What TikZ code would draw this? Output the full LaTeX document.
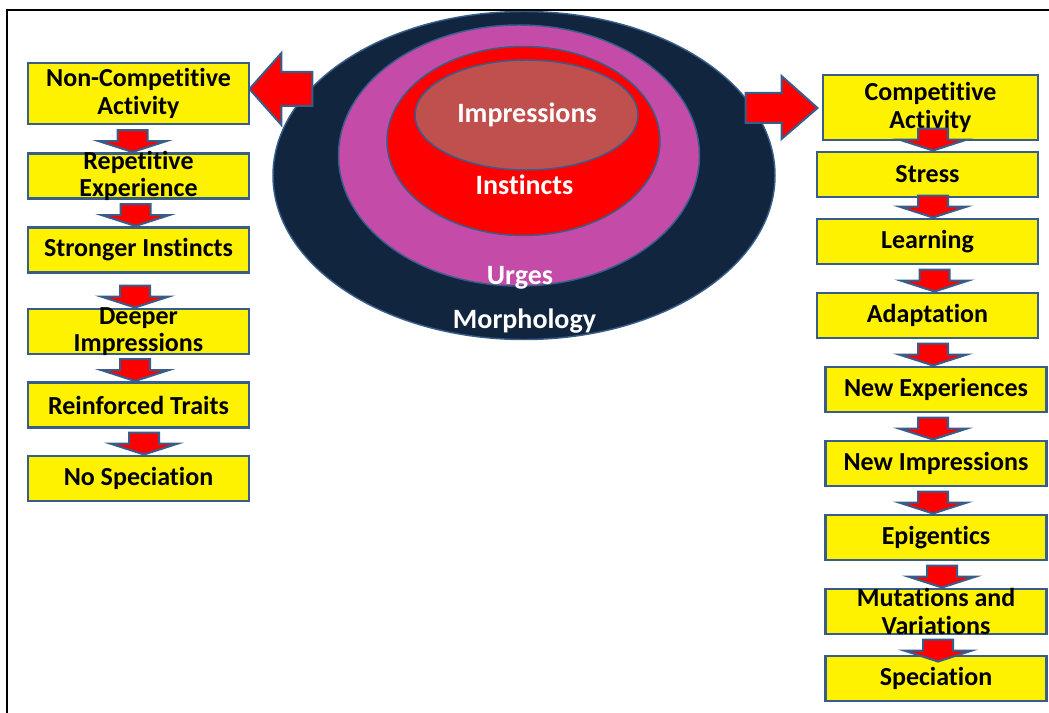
\documentclass[tikz,border=0pt]{standalone}
\usepackage{fontspec}
\setmainfont{Carlito}[Ligatures={NoCommon,NoContextual,NoRequired},RawFeature={-liga;-clig;-calt}]
\usetikzlibrary{calc}
\definecolor{boxline}{RGB}{56,93,138}
\definecolor{navy}{RGB}{18,37,63}
\definecolor{urgec}{RGB}{196,75,168}
\definecolor{imprc}{RGB}{192,80,77}
\tikzset{
  stage/.style={draw=boxline, line width=2.2pt, fill=yellow, minimum width=165.75pt,
    minimum height=33.75pt, inner xsep=0pt, inner ysep=0pt, align=center,
    font=\bfseries\fontsize{19.5}{20.8}\selectfont},
  twoline/.style={inner ysep=-4pt},
  blockarr/.style={draw=boxline, line width=1.5pt, fill=red, line join=miter},
  ring/.style={draw=boxline, line width=1.1pt},
  ringtxt/.style={text=white, anchor=base, font=\bfseries\fontsize{21}{25}\selectfont}
}
\newcommand*{\dnarr}[3]{\draw[blockarr] ([shift={(#2,#3)}]#1.north) -- ++(-34,-11) -- ++(19,0)
  -- ++(0,-11) -- ++(30,0) -- ++(0,11) -- ++(19,0) -- cycle;}

\begin{document}
\begin{tikzpicture}[x=0.75pt,y=-0.75pt]
\useasboundingbox (0,0) rectangle (1049,713);
\draw[line width=2.2pt] (1049,10) -- (7,10) -- (7,713);
\draw[ring, fill=navy] (524,175.5) ellipse [x radius=251, y radius=164];
\draw[ring, fill=urgec] (519,155.5) ellipse [x radius=180.5, y radius=130.5];
\draw[ring, fill=red] (523.5,141) ellipse [x radius=136.5, y radius=94.5];
\draw[ring, fill=imprc] (526.5,115) ellipse [x radius=111.5, y radius=55];
\node[ringtxt] (imp) at (527,123) {Impressions};
\node[ringtxt] (inst) at (524.5,195) {Instincts};
\node[ringtxt] (urg) at (520,284) {Urges};
\node[ringtxt] (morph) at (524.5,328.5) {Morphology};
\node[stage, minimum height=45.75pt] (nc) at (138.5,93.5) {Non-Competitive\\Activity};
\node[stage, twoline] (rep) at (138.5,176) {Repetitive\\Experience};
\node[stage] (str) at (138.5,250) {Stronger Instincts};
\node[stage, twoline] (deep) at (138.5,331.5) {Deeper\\Impressions};
\node[stage] (reinf) at (138.5,405) {Reinforced Traits};
\node[stage] (nospec) at (138.5,478.5) {No Speciation};
\node[stage, minimum width=161.25pt, minimum height=48.75pt] (ca) at (930.5,107.5) {Competitive\\Activity};
\node[stage] (stress) at (927.5,174.5) {Stress};
\node[stage] (learn) at (927.5,241.5) {Learning};
\node[stage] (adapt) at (927.5,315.5) {Adaptation};
\node[stage] (newexp) at (936,389.5) {New Experiences};
\node[stage] (newimp) at (936,463.5) {New Impressions};
\node[stage] (epi) at (936,537.5) {Epigentics};
\node[stage, twoline] (mut) at (936,611.5) {Mutations and\\Variations};
\node[stage] (spec) at (936,678.5) {Speciation};
\draw[blockarr] ([shift={(-1,-4.5)}]nc.east) -- ++(32,-36) -- ++(0,19) -- ++(31,0)
  -- ++(0,34) -- ++(-31,0) -- ++(0,19) -- cycle;
\draw[blockarr] ([shift={(-4,0.5)}]ca.west) -- ++(-36,-32) -- ++(0,17) -- ++(-36,0)
  -- ++(0,30) -- ++(36,0) -- ++(0,16) -- cycle;
\foreach \nm/\dx/\dy in {rep/-6/0, str/-3/0, deep/-3.5/0, reinf/-3.5/0, nospec/5.5/0,
    stress/5.5/0, learn/5.5/0, adapt/7/0, newexp/-3/0, newimp/-3/0, epi/-3/0, mut/6/0, spec/2/7}
  \dnarr{\nm}{\dx}{\dy};
\end{tikzpicture}
\end{document}
